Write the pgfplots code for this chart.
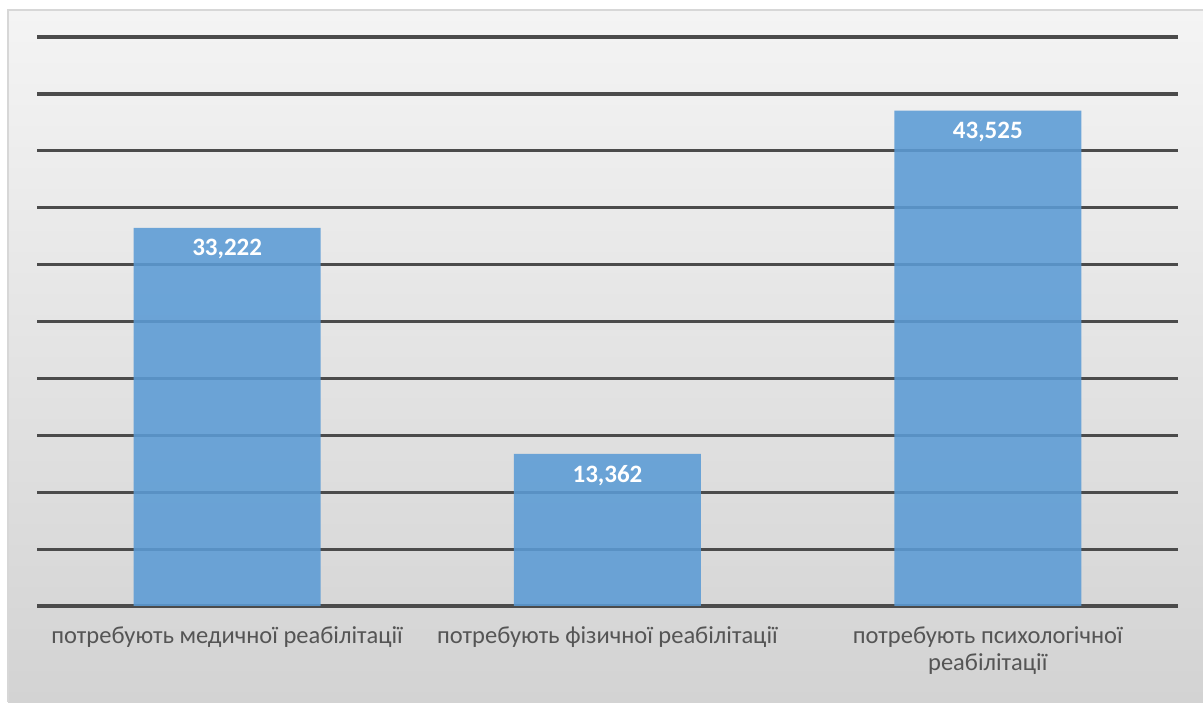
\documentclass[border=0pt]{standalone}
\usepackage{fontspec}
\setmainfont{Carlito}
\usepackage{pgfplots}
\pgfplotsset{compat=1.18}
\definecolor{barblue}{RGB}{91,155,213}
\definecolor{gridc}{RGB}{75,75,75}
\definecolor{labc}{RGB}{85,85,85}
\definecolor{bgtop}{RGB}{244,244,244}
\definecolor{bgbot}{RGB}{211,211,211}
\definecolor{framec}{RGB}{215,215,215}
\begin{document}
\begin{tikzpicture}[x=1pt,y=1pt]
\useasboundingbox (0,0) rectangle (1203,702);
\fill[white] (0,0) rectangle (1203,702);
\shade[top color=bgtop, bottom color=bgbot] (8,0) rectangle (1203,692);
\draw[framec, line width=1.5pt] (8,0) -- (8,692) -- (1203,692);
\begin{axis}[
  scale only axis,
  width=1141pt, height=569pt,
  at={(37pt,96pt)}, anchor=south west,
  xmin=-0.5, xmax=2.5, ymin=0, ymax=50,
  ybar, bar width=187pt,
  axis line style={draw=none},
  xtick={0,1,2},
  xticklabels={потребують медичної реабілітації, потребують фізичної реабілітації, {потребують психологічної\\реабілітації}},
  x tick label style={align=center, font=\fontsize{24.5}{27}\selectfont, text=labc, yshift=-17pt},
  ytick={0,5,...,50},
  yticklabels={},
  major tick length=0pt,
  ymajorgrids,
  grid style={gridc, line width=3.2pt},
  nodes near coords={\pgfmathprintnumber[fixed, fixed zerofill, precision=3, use comma]{\pgfplotspointmeta}},
  nodes near coords style={anchor=north, yshift=-8pt, text=white, font=\bfseries\fontsize{25}{28}\selectfont},
  /pgf/number format/assume math mode=true,
]
\addplot[fill=barblue, fill opacity=0.88, draw=none, text opacity=1] coordinates {(0,33.222) (1,13.362) (2,43.525)};
\end{axis}
\end{tikzpicture}
\end{document}
